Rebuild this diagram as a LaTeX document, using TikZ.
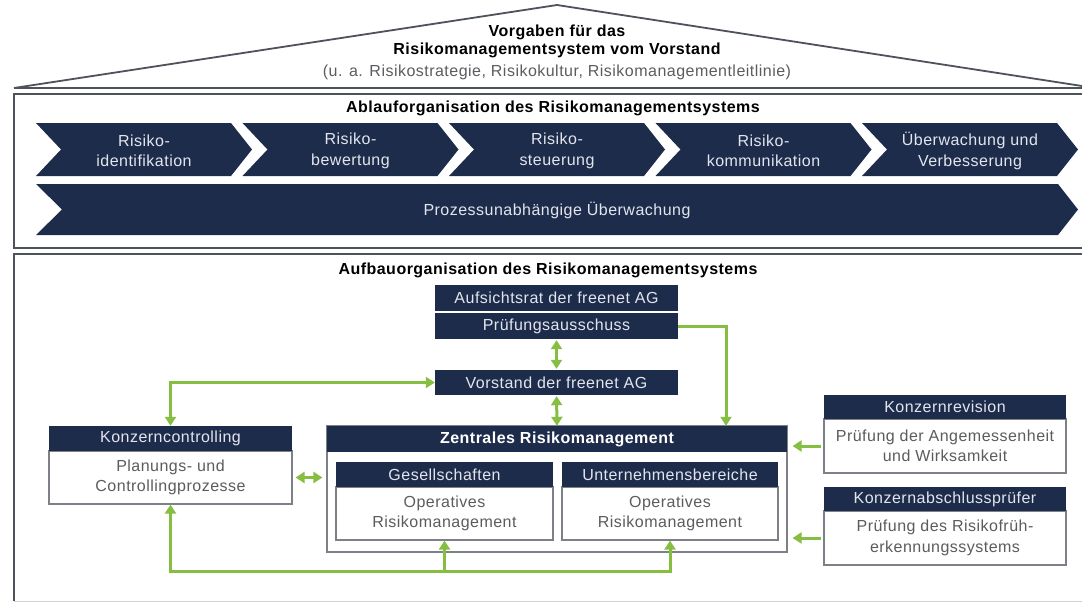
\documentclass[tikz,border=0pt]{standalone}
\usepackage{fontspec}
\setmainfont{Liberation Sans}[LetterSpace=3]
\usepackage{tikz}
\usetikzlibrary{calc,arrows.meta}

\definecolor{navy}{RGB}{30,44,76}
\definecolor{kgreen}{RGB}{134,190,66}
\definecolor{framegray}{RGB}{78,82,90}
\definecolor{boxline}{RGB}{125,128,134}
\definecolor{bodytext}{RGB}{92,92,96}
\definecolor{headtext}{RGB}{226,229,236}

\tikzset{
  txt/.style={font=\fontsize{16}{20.5}\selectfont},
  boldtxt/.style={font=\fontsize{16}{20.5}\selectfont\bfseries},
  head/.style={txt,fill=navy,text=headtext,minimum height=25pt,inner sep=0pt},
  body/.style={txt,draw=boxline,line width=1.2pt,fill=white,text=bodytext,align=center,inner sep=0pt},
  house/.style={draw=framegray,line width=1.8pt},
  flow/.style={draw=kgreen,line width=3pt,-{Triangle[length=9pt,width=11pt]}},
  flowboth/.style={draw=kgreen,line width=3pt,{Triangle[length=9pt,width=11pt]}-{Triangle[length=9pt,width=11pt]}},
}

\begin{document}
\begin{tikzpicture}[x=1pt,y=-1pt]
  \useasboundingbox (0,0) rectangle (1082,603);
  \clip (0,0) rectangle (1082,603);

  % roof of the house
  \draw[house] (14,88) -- (557,5) -- (1082,86);
  \draw[house] (14,88) -- (1090,88);
  \node[boldtxt] (roofA) at (557,32) {Vorgaben für das};
  \node[boldtxt] (roofB) at (557,50) {Risikomanagementsystem vom Vorstand};
  \node[txt,text=bodytext] (roofC) at (557,72) {(u. a. Risikostrategie, Risikokultur, Risikomanagementleitlinie)};

  % upper floor: Ablauforganisation
  \draw[house] (1090,94) -- (14,94) -- (14,248) -- (1090,248);
  \node[boldtxt] (ablauf) at (553,108) {Ablauforganisation des Risikomanagementsystems};
  \foreach \i/\one/\two in {0/Risiko-/identifikation, 1/Risiko-/bewertung, 2/Risiko-/steuerung,
      3/Risiko-/kommunikation, 4/Überwachung und/Verbesserung} {
    \pgfmathsetmacro{\xa}{36+206.5*\i}
    \fill[navy] (\xa,123) -- ++(195,0) -- ++(21,26.5) -- ++(-21,26.5) -- ++(-195,0) -- ++(25,-26.5) -- cycle;
    \node[txt,text=headtext,align=center] (chev\i) at (\xa+108,151) {\one\\\two};
  }
  \fill[navy] (36,184) -- (1058,184) -- (1078,209.5) -- (1058,235) -- (36,235) -- (62,209.5) -- cycle;
  \node[txt,text=headtext] (prozess) at (557,210) {Prozessunabhängige Überwachung};

  % lower floor: Aufbauorganisation
  \draw[house] (1090,254) -- (14,254) -- (14,601);
  \draw[gray!35,line width=1pt] (14,601) -- (1090,601);
  \node[boldtxt] (aufbau) at (548,270) {Aufbauorganisation des Risikomanagementsystems};

  \node[head,minimum width=243pt,minimum height=26pt] (aufsicht) at (556.5,298) {Aufsichtsrat der freenet AG};
  \node[head,minimum width=243pt,minimum height=26pt] (pruef) at (556.5,326) {Prüfungsausschuss};
  \node[head,minimum width=243pt] (vorstand) at (556.5,382.5) {Vorstand der freenet AG};

  \node[body,minimum width=243pt,minimum height=53pt] (ctrlbody) at (170.5,477.5) {Planungs- und\\Controllingprozesse};
  \node[head,minimum width=243pt] (ctrlhead) at (170.5,438.5) {Konzerncontrolling};

  \node[body,minimum width=460pt,minimum height=126pt] (zrmframe) at (557,489) {};
  \node[head,boldtxt,text=white,minimum width=460pt,minimum height=26pt] (zrmhead) at (557,439) {Zentrales Risikomanagement};
  \node[body,minimum width=217pt,minimum height=53pt] (gesbody) at (444.5,513.5) {Operatives\\Risikomanagement};
  \node[head,minimum width=217pt] (geshead) at (444.5,474.5) {Gesellschaften};
  \node[body,minimum width=216pt,minimum height=53pt] (unbody) at (670,513.5) {Operatives\\Risikomanagement};
  \node[head,minimum width=216pt] (unhead) at (670,474.5) {Unternehmensbereiche};

  \node[body,minimum width=242pt,minimum height=54pt] (revbody) at (945,446) {Prüfung der Angemessenheit\\und Wirksamkeit};
  \node[head,minimum width=242pt,minimum height=24pt] (revhead) at (945,407) {Konzernrevision};
  \node[body,minimum width=242pt,minimum height=54pt] (absbody) at (945,538) {Prüfung des Risikofrüh-\\erkennungssystems};
  \node[head,minimum width=242pt,minimum height=24pt] (abshead) at (945,499) {Konzernabschlussprüfer};

  % green connectors
  \draw[flow] (pruef.east) -| ([xshift=169pt]zrmhead.north);
  \draw[flowboth] (vorstand.west) -| (ctrlhead.north);
  \draw[flowboth,shorten <=1pt,shorten >=1pt] (pruef.south) -- (vorstand.north);
  \draw[flowboth,shorten <=1pt] (vorstand.south) -- (zrmhead.north);
  \draw[flowboth,shorten <=3pt,shorten >=4pt] (ctrlbody.east) -- (ctrlbody.east -| zrmframe.west);
  \coordinate (busmid) at (gesbody.south |- 0,571);
  \draw[flowboth] (ctrlbody.south) |- ($(unbody.south)+(0,31)$) -- (unbody.south);
  \draw[flow] (busmid) -- (gesbody.south);
  \draw[flow,shorten <=2pt,shorten >=5pt] (revbody.west) -- (revbody.west -| zrmframe.east);
  \draw[flow,shorten <=2pt,shorten >=5pt] (absbody.west) -- (absbody.west -| zrmframe.east);
\end{tikzpicture}
\end{document}
